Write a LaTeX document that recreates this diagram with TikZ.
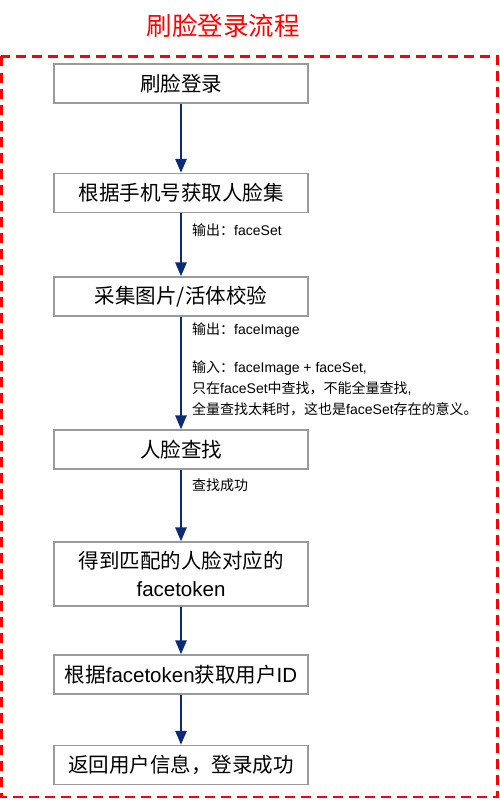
\documentclass[tikz,border=0pt]{standalone}
\usepackage{fontspec}
\setmainfont{Noto Sans CJK SC}
\newfontfamily\lat{Liberation Sans}
\newcommand{\la}[1]{{\lat #1}}
\usetikzlibrary{arrows.meta}
\definecolor{navy}{HTML}{0B2B74}
\definecolor{boxgray}{HTML}{9A9A9A}
\tikzset{
  stepbox/.style={draw=boxgray, line width=1.2bp, fill=white, minimum width=254bp, minimum height=39bp, inner sep=0pt, align=center, font=\fontsize{20.5bp}{28bp}\selectfont},
  flow/.style={draw=navy, line width=2.6bp, -{Triangle[length=14bp,width=11bp]}},
  note/.style={anchor=west, inner sep=0pt, align=left, font=\fontsize{14bp}{21bp}\selectfont},
}
\begin{document}
\begin{tikzpicture}[x=1bp,y=-1bp]
\useasboundingbox (0,0) rectangle (500,801);
\node[text=red, font=\fontsize{25.5bp}{30bp}\selectfont] (title) at (223,26) {刷脸登录流程};
\draw[red, line width=2.2bp, dash pattern=on 10bp off 6bp] (1.5,56.5) rectangle (497.5,797);
\node[stepbox] (b1) at (181,83.5) {刷脸登录};
\node[stepbox] (b2) at (181,193) {根据手机号获取人脸集};
\node[stepbox] (b3) at (181,296.5) {采集图片/活体校验};
\node[stepbox] (b4) at (181,449.5) {人脸查找};
\node[stepbox, minimum height=64bp] (b5) at (181,574) {得到匹配的人脸对应的\\\la{facetoken}};
\node[stepbox] (b6) at (181,674.5) {根据\la{facetoken}获取用户\la{ID}};
\node[stepbox] (b7) at (181,765) {返回用户信息，登录成功};
\draw[flow] (b1) -- (b2);
\draw[flow] (b2) -- (b3);
\draw[flow] (b3) -- (b4);
\draw[flow] (b4) -- (b5);
\draw[flow] (b5) -- (b6);
\draw[flow] (b6) -- (b7);
\node[note] (n1) at (192,230) {输出：\la{faceSet}};
\node[note] (n2) at (192,330) {输出：\la{faceImage}};
\node[note] (n3) at (192,388) {输入：\la{faceImage + faceSet,}\\只在\la{faceSet}中查找，不能全量查找\la{,}\\全量查找太耗时，这也是\la{faceSet}存在的意义。};
\node[note] (n4) at (192,485) {查找成功};
\end{tikzpicture}
\end{document}
